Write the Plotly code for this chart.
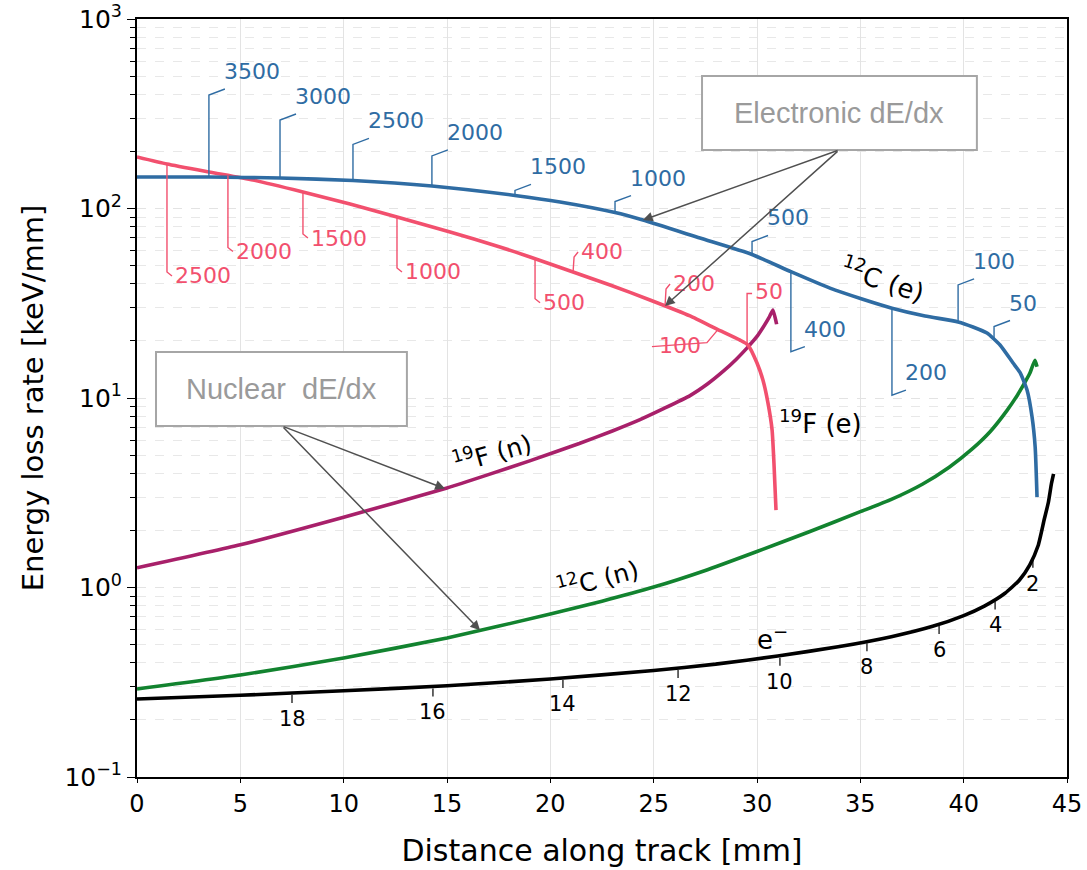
import numpy as np
import plotly.graph_objects as go

# ---------------- data ----------------
c12e_x = [0, 3.48, 6.92, 10.45, 14.27, 18.29, 20.47, 23.13, 24.48, 27.24, 29.76, 31.64, 33.53,
          35.08, 36.53, 38.13, 39.73, 40.45, 41.13, 41.76, 42.39, 42.73, 43.07, 43.31, 43.46, 43.55]
c12e_y = [146.6, 146.6, 144.9, 140.6, 131.5, 117.2, 108.2, 95.2, 86.9, 69.8, 57.2, 46.4, 38.0,
          33.3, 29.8, 27.1, 25.2, 23.7, 22.0, 19.05, 15.3, 13.6, 11.0, 7.94, 5.51, 3.0]

f19e_x = [0, 1.45, 3.48, 5.61, 8.03, 10.31, 12.58, 15.15, 17.56, 19.02, 21.10, 22.89, 24.82,
          26.76, 28.06, 29.18, 29.56, 30.0, 30.29, 30.53, 30.73, 30.82, 30.92]
f19e_y = [187.2, 171.8, 155.9, 141.3, 122.2, 105.6, 90.2, 75.2, 62.7, 55.5, 46.2, 39.5, 32.9,
          27.1, 23.1, 20.2, 19.05, 15.3, 12.4, 9.42, 6.78, 4.54, 2.56]

f19n_x = [0, 5, 10, 15, 17, 19, 21.4, 23.0, 24.34, 25.5, 26.76, 27.6, 28.37, 29.0, 29.5, 30.0,
          30.29, 30.6, 30.77, 30.95]
f19n_y = [1.27, 1.68, 2.35, 3.35, 3.94, 4.66, 5.75, 6.70, 7.69, 8.81, 10.30, 11.85, 13.85,
          16.03, 18.28, 21.13, 23.55, 26.79, 29.1, 24.5]

c12n_x = [0, 5, 10, 15, 20, 22.5, 25, 27.5, 30, 32.5, 35, 36.5, 38, 39.3, 40.4, 41.3, 42.1,
          42.6, 42.9, 43.2, 43.45, 43.55]
c12n_y = [0.291, 0.345, 0.425, 0.542, 0.724, 0.847, 1.005, 1.230, 1.549, 1.963, 2.512, 2.917,
          3.508, 4.315, 5.370, 6.683, 8.610, 10.35, 11.75, 13.49, 15.81, 14.62]

elec_x = [0, 5, 10, 15, 20, 25, 28, 31, 34, 36.5, 38.5, 40, 41, 42, 42.7, 43.2, 43.6, 43.9,
          44.1, 44.25, 44.35]
elec_y = [0.258, 0.270, 0.285, 0.303, 0.329, 0.365, 0.394, 0.435, 0.488, 0.550, 0.624, 0.711,
          0.798, 0.933, 1.096, 1.318, 1.660, 2.291, 2.818, 3.548, 3.981]

# energy labels (keV) along the electronic curves
c12e_lab_text = ["3500", "3000", "2500", "2000", "1500", "1000", "500", "400", "200", "100", "50"]
c12e_lab_x = [3.48, 6.92, 10.45, 14.27, 18.29, 23.13, 29.76, 31.64, 36.53, 39.73, 41.47]

f19e_lab_text = ["2500", "2000", "1500", "1000", "500", "400", "200", "100", "50"]
f19e_lab_x = [1.45, 4.40, 8.03, 12.58, 19.26, 21.1, 25.55, 28.11, 29.52]

# remaining-range labels (mm) along the electron curve
elec_lab_text = ["18", "16", "14", "12", "10", "8", "6", "4", "2"]
elec_lab_x = [7.50, 14.32, 20.61, 26.18, 31.11, 35.32, 38.81, 41.52, 43.35]

y_tickvals = [0.1, 1, 10, 100, 1000]
y_ticktext = ["10<sup>−1</sup>", "10<sup>0</sup>", "10<sup>1</sup>", "10<sup>2</sup>", "10<sup>3</sup>"]

# ---------------- style ----------------
BLUE = "#2f6ca3"
RED = "#f2506e"
MAG = "#a8206a"
GREEN = "#12832f"
BLACK = "#000000"
FONT = "DejaVu Sans"


def on_curve(x, xs, ys):
    return float(10 ** np.interp(x, xs, np.log10(ys)))


fig = go.Figure()
for xs, ys, col in [(f19n_x, f19n_y, MAG), (c12n_x, c12n_y, GREEN), (elec_x, elec_y, BLACK),
                    (f19e_x, f19e_y, RED), (c12e_x, c12e_y, BLUE)]:
    fig.add_trace(go.Scatter(x=xs, y=ys, mode="lines",
                             line=dict(color=col, width=3.6, shape="spline", smoothing=0.5),
                             showlegend=False, hoverinfo="skip"))

shapes = []
annots = []


def leader(x, y, path, col, width=1.4):
    shapes.append(dict(type="path", xref="x", yref="y", xsizemode="pixel", ysizemode="pixel",
                       xanchor=x, yanchor=y, path=path, line=dict(color=col, width=width)))


def label(x, y, text, col, dx, dy, xanchor="left", yanchor="bottom", size=21, angle=0):
    annots.append(dict(x=x, y=float(np.log10(y)), xref="x", yref="y", text=text, showarrow=False,
                       xshift=dx, yshift=dy, xanchor=xanchor, yanchor=yanchor, textangle=angle,
                       font=dict(family=FONT, size=size, color=col)))


# blue (12C) leaders: vertical length (+ up / - down) then short diagonal
blue_len = [82, 58, 36, 30, 5, 11, 13, -80, -87, 37, 13]
for t, x, L in zip(c12e_lab_text, c12e_lab_x, blue_len):
    y = on_curve(x, c12e_x, c12e_y)
    if L > 0:
        ex, ey = 16, L + 6
    else:
        ex, ey = 14, L + 5
    leader(x, y, f"M0,0 L0,{L} L{ex},{ey}", BLUE)
    label(x, y, t, BLUE, ex - 3, ey + 3, size=22)

# red (19F) leaders
red_style = {
    "2500": ("down", 108), "2000": ("down", 72), "1500": ("down", 42), "1000": ("down", 51),
    "500": ("down", 40), "400": ("up", 20), "200": ("up", 22), "100": ("strike", 0),
    "50": ("hook", 51),
}
for t, x in zip(f19e_lab_text, f19e_lab_x):
    y = on_curve(x, f19e_x, f19e_y)
    kind, L = red_style[t]
    if kind == "down":
        leader(x, y, f"M0,0 L0,{-L} L5,{-L - 4}", RED)
        label(x, y, t, RED, 6, -L - 4, yanchor="middle", size=22)
    elif kind == "up":
        leader(x, y, f"M0,0 L1,{L - 5} L5,{L}", RED)
        label(x, y, t, RED, 6, L + 1, yanchor="middle", size=22)
    elif kind == "hook":
        leader(x, y, f"M0,0 L0,{L} L5,{L}", RED)
        label(x, y, t, RED, 6, L + 2, yanchor="middle", size=22)
    else:
        leader(x, y, "M0,0 L-11,-13 L-66,-17", RED)
        label(x, y, t, RED, -38, -16, xanchor="center", yanchor="middle", size=22)

# electron range ticks
for t, x in zip(elec_lab_text, elec_lab_x):
    y = on_curve(x, elec_x, elec_y)
    leader(x, y, "M0,-2 L0,-10", BLACK, 1.2)
    label(x, y, t, BLACK, 0, -12, xanchor="center", yanchor="top", size=21)

# curve names
label(36.1, 10 ** 1.628, "<sup>12</sup>C (e)", BLACK, 0, 0, "center", "middle", 26, 18)
label(33.05, 10 ** 0.873, "<sup>19</sup>F (e)", BLACK, 0, 0, "center", "middle", 26, 0)
label(17.18, 10 ** 0.715, "<sup>19</sup>F (n)", BLACK, 0, 0, "center", "middle", 25, -16)
label(22.26, 10 ** 0.050, "<sup>12</sup>C (n)", BLACK, 0, 0, "center", "middle", 25, -15)
label(30.77, 10 ** -0.266, "e<sup>−</sup>", BLACK, 0, 0, "center", "middle", 26, 0)

# boxes
BOXC = "#a6a6a6"
shapes.append(dict(type="rect", xref="x", yref="y", x0=27.34, x1=40.64, y0=203.6, y1=500,
                   line=dict(color=BOXC, width=2), fillcolor="white", layer="above"))
shapes.append(dict(type="rect", xref="x", yref="y", x0=0.92, x1=13.06, y0=7.11, y1=17.5,
                   line=dict(color=BOXC, width=2), fillcolor="white", layer="above"))
annots.append(dict(x=33.99, y=float(np.log10(318)), xref="x", yref="y", text="Electronic dE/dx",
                   showarrow=False, font=dict(family="Liberation Sans", size=29, color="#9a9a9a")))
annots.append(dict(x=6.99, y=float(np.log10(11.2)), xref="x", yref="y", text="Nuclear\u00a0 dE/dx",
                   showarrow=False, font=dict(family="Liberation Sans", size=29, color="#9a9a9a")))


# arrows from boxes to curves
def arrow(tx, ty, sx, sy):
    annots.append(dict(x=tx, y=float(np.log10(ty)), xref="x", yref="y", ax=sx, ay=float(np.log10(sy)),
                       axref="x", ayref="y", text="", showarrow=True, arrowhead=2, arrowsize=1.3,
                       arrowwidth=1.5, arrowcolor="#505050", standoff=0))


arrow(24.48, on_curve(24.48, c12e_x, c12e_y), 33.97, 203.6)
arrow(25.55, on_curve(25.55, f19e_x, f19e_y), 33.97, 203.6)
arrow(14.9, on_curve(14.9, f19n_x, f19n_y), 7.02, 7.11)
arrow(16.6, on_curve(16.6, c12n_x, c12n_y), 7.02, 7.11)

minor_vals = [m * 10 ** e for e in range(-1, 3) for m in range(2, 10)]

fig.update_layout(
    width=1087, height=870,
    margin=dict(l=137, r=20, t=19, b=93),
    plot_bgcolor="white", paper_bgcolor="white",
    shapes=shapes, annotations=annots,
    xaxis=dict(range=[0, 45], dtick=5, tick0=0, showline=True, linecolor="black", linewidth=2,
               mirror=True, ticks="outside", ticklen=4, tickcolor="black", automargin=False,
               ticklabeloverflow="allow",
               showgrid=True, gridcolor="#e3e3e3", gridwidth=1, zeroline=False,
               tickfont=dict(family=FONT, size=24, color="black"),
               title=dict(text="Distance along track [mm]", standoff=23,
                          font=dict(family=FONT, size=30, color="black"))),
    yaxis=dict(type="log", range=[-1, 3], tickmode="array", tickvals=y_tickvals, ticktext=y_ticktext,
               showline=True, linecolor="black", linewidth=2, mirror=True, automargin=False,
               ticklabeloverflow="allow",
               ticks="outside", ticklen=8, tickcolor="black",
               showgrid=True, gridcolor="#e3e3e3", griddash="dash", zeroline=False,
               minor=dict(tickmode="array", tickvals=minor_vals, ticks="outside", ticklen=5,
                          tickcolor="black", showgrid=True, gridcolor="#e8e8e8", griddash="dash"),
               tickfont=dict(family=FONT, size=25, color="black"),
               title=dict(text="Energy loss rate [keV/mm]", standoff=12,
                          font=dict(family=FONT, size=29, color="black"))),
)

# remove the page's default body margin so the figure sits at the window's top-left corner
fig.write_html("out.html", config={"displayModeBar": False},
               post_script="document.body.style.margin='0px';document.body.style.overflow='hidden';")
